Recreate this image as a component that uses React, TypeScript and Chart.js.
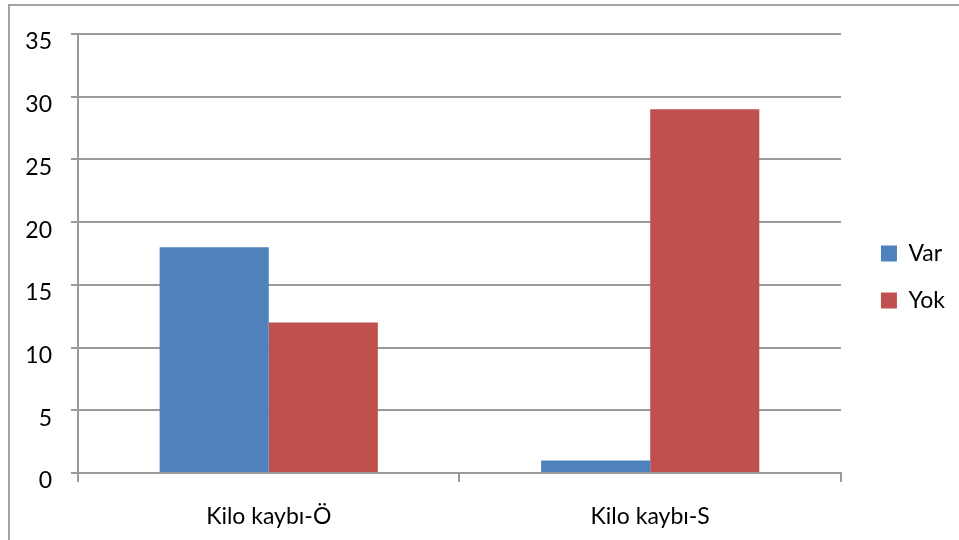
import React, { useEffect, useRef } from "react";
import { Chart, registerables } from "chart.js";

Chart.register(...registerables);

const categories = ["Kilo kaybı-Ö", "Kilo kaybı-S"];
const seriesNames = ["Var", "Yok"];
const varValues = [18, 1];
const yokValues = [12, 29];
const yTicks = [0, 5, 10, 15, 20, 25, 30, 35];

const FONT = { family: "Lato, 'Open Sans', sans-serif", size: 23 };
const GRID = "#9a9a9a";

export default function App() {
  const ref = useRef<HTMLCanvasElement>(null);

  useEffect(() => {
    document.body.style.margin = "0";
    const chart = new Chart(ref.current as HTMLCanvasElement, {
      type: "bar",
      data: {
        labels: categories,
        datasets: [
          {
            label: seriesNames[0],
            data: varValues,
            backgroundColor: "#4F81BD",
            categoryPercentage: 0.572,
            barPercentage: 1,
          },
          {
            label: seriesNames[1],
            data: yokValues,
            backgroundColor: "#C0504D",
            categoryPercentage: 0.572,
            barPercentage: 1,
          },
        ],
      },
      options: {
        responsive: false,
        animation: false,
        devicePixelRatio: 1,
        layout: { padding: { top: 26, bottom: 12, left: 0, right: 4 } },
        plugins: {
          legend: {
            position: "right",
            align: "center",
            labels: {
              boxWidth: 16,
              boxHeight: 16,
              padding: 24,
              color: "#000",
              font: FONT,
            },
          },
          tooltip: { enabled: false },
          title: {
            display: true,
            text: "",
            font: { size: 8, lineHeight: 1 },
            padding: 0,
          },
        },
        scales: {
          x: {
            grid: {
              drawOnChartArea: false,
              drawTicks: true,
              tickLength: 9,
              color: GRID,
              lineWidth: 2,
            },
            border: { color: GRID, width: 2 },
            ticks: { color: "#000", font: FONT, padding: 21 },
            afterFit: (s: any) => {
              s.height = 55;
            },
          },
          y: {
            min: 0,
            max: 35,
            afterBuildTicks: (s: any) => {
              s.ticks = yTicks.map((v) => ({ value: v }));
            },
            ticks: { color: "#000", font: FONT, padding: 19, labelOffset: 8 },
            grid: { color: GRID, lineWidth: 2, tickLength: 7 },
            border: { color: GRID, width: 2 },
            afterFit: (s: any) => {
              s.width = 78;
            },
          },
          yR: {
            position: "right",
            display: true,
            grid: { display: false },
            ticks: { display: false },
            border: { display: false },
            afterFit: (s: any) => {
              s.width = 16;
            },
          },
        },
      },
    });
    return () => chart.destroy();
  }, []);

  return (
    <div
      style={{
        position: "absolute",
        left: 0,
        top: 0,
        width: 959,
        height: 540,
        overflow: "hidden",
        background: "#fff",
      }}
    >
      <canvas
        ref={ref}
        width={959}
        height={540}
        style={{ position: "absolute", left: 0, top: 0, display: "block" }}
      />
      <div
        style={{
          position: "absolute",
          left: 8,
          top: 4,
          width: 1000,
          height: 600,
          border: "2px solid #a3a3a3",
          pointerEvents: "none",
        }}
      />
    </div>
  );
}
